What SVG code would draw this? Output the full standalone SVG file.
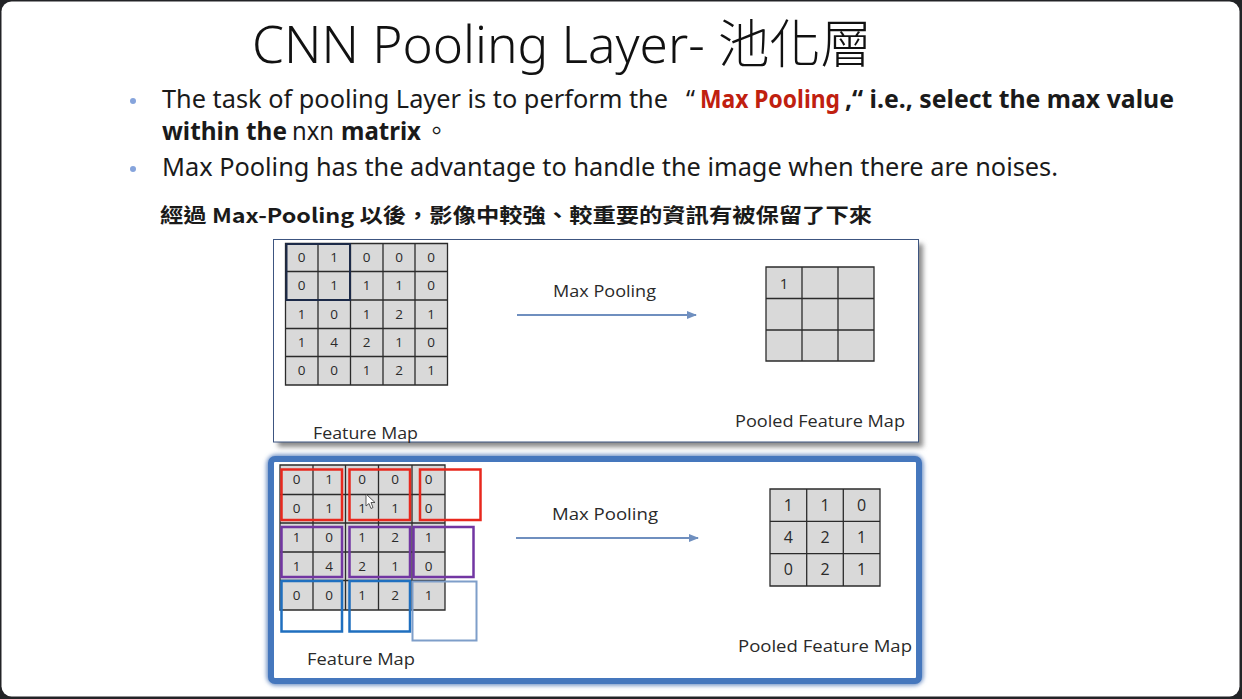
<svg xmlns="http://www.w3.org/2000/svg" width="1242" height="699" viewBox="0 0 1242 699">
<defs>
<style>
.ttl{font-family:"Noto Sans","Noto Sans CJK TC",sans-serif;font-size:52px;font-weight:300;fill:#111}
.b{font-family:"Noto Sans","Noto Sans CJK TC",sans-serif;font-size:25px;fill:#1a1a1a}
.bold{font-weight:bold}
.red{fill:#c0200f}
.sub{font-family:"Noto Sans CJK TC","Noto Sans",sans-serif;font-size:20px;font-weight:bold;fill:#1a1a1a}
.lbl{font-family:"Open Sans","Noto Sans",sans-serif;font-size:15.5px;fill:#2a2a2a}
.num{font-family:"Open Sans","Noto Sans",sans-serif;font-size:13.5px;fill:#2a2a2a;text-anchor:middle}
.pnum{font-family:"Open Sans","Noto Sans",sans-serif;font-size:16px;fill:#2a2a2a;text-anchor:middle}
.cell{fill:#d9d9d9}
.gl{fill:none;stroke:#2b2b2b;stroke-width:1.3}
.conn{stroke:#6f8fbf;stroke-width:2;fill:none}
.win{fill:none;stroke-width:2.5}
</style>
<marker id="ah" viewBox="0 0 10 10" refX="9" refY="5" markerWidth="5" markerHeight="5" orient="auto" markerUnits="strokeWidth">
<path d="M0,1 L10,5 L0,9 Z" fill="#6f8fbf"/>
</marker>
<filter id="sh" x="-5%" y="-5%" width="115%" height="120%">
<feGaussianBlur stdDeviation="2.5"/>
</filter>
<filter id="glow" x="-5%" y="-5%" width="110%" height="115%">
<feGaussianBlur stdDeviation="2"/>
</filter>
</defs>

<rect x="0" y="0" width="1242" height="699" fill="#222326"/>
<rect x="1.5" y="1.5" width="1238" height="695" rx="10" fill="#ffffff"/>

<g id="title">
<text class="ttl" x="252" y="63" textLength="620" lengthAdjust="spacingAndGlyphs">CNN Pooling Layer- 池化層</text>
</g>

<g id="bullets">
<circle cx="133" cy="101" r="3" fill="#86a4dc"/>
<circle cx="133" cy="169" r="3" fill="#86a4dc"/>
<text class="b" x="162" y="108" textLength="506" lengthAdjust="spacingAndGlyphs">The task of pooling Layer is to perform the</text>
<text class="b" x="686" y="108">“</text>
<text class="b bold red" x="700" y="108" textLength="140" lengthAdjust="spacingAndGlyphs">Max Pooling</text>
<text class="b bold" x="845" y="108" textLength="329" lengthAdjust="spacingAndGlyphs">,“ i.e., select the max value</text>
<text class="b bold" x="162" y="140" textLength="125" lengthAdjust="spacingAndGlyphs">within the</text>
<text class="b" x="292" y="140" textLength="42" lengthAdjust="spacingAndGlyphs">nxn</text>
<text class="b bold" x="341" y="140" textLength="80" lengthAdjust="spacingAndGlyphs">matrix</text>
<text class="b" x="424" y="140">。</text>
<text class="b" x="162" y="176" textLength="896" lengthAdjust="spacingAndGlyphs">Max Pooling has the advantage  to handle the image when there are noises.</text>
</g>

<g id="subtitle">
<text class="sub" x="160" y="223" textLength="712" lengthAdjust="spacingAndGlyphs">經過 Max-Pooling 以後，影像中較強、較重要的資訊有被保留了下來</text>
</g>

<g id="panel-top">
<rect x="278" y="244" width="645" height="203" fill="#8a8a8a" filter="url(#sh)"/>
<rect x="273.5" y="239.5" width="645" height="202.5" fill="#ffffff" stroke="#3d5580" stroke-width="1"/>
<g id="feature-map-top">
<rect class="cell" x="285.5" y="243.5" width="162" height="141.5"/>
<path class="gl" d="M285.5,243.5 H447.5 V385 H285.5 Z M318,243.5 V385 M350.5,243.5 V385 M383,243.5 V385 M415,243.5 V385 M285.5,271.5 H447.5 M285.5,300 H447.5 M285.5,328.5 H447.5 M285.5,356.5 H447.5"/>
<rect x="286.5" y="244" width="63.5" height="56" fill="none" stroke="#1c2a48" stroke-width="2"/>
<g class="num">
<text x="301.7" y="262">0</text><text x="334.2" y="262">1</text><text x="366.7" y="262">0</text><text x="399" y="262">0</text><text x="431.2" y="262">0</text>
<text x="301.7" y="290">0</text><text x="334.2" y="290">1</text><text x="366.7" y="290">1</text><text x="399" y="290">1</text><text x="431.2" y="290">0</text>
<text x="301.7" y="319">1</text><text x="334.2" y="319">0</text><text x="366.7" y="319">1</text><text x="399" y="319">2</text><text x="431.2" y="319">1</text>
<text x="301.7" y="347">1</text><text x="334.2" y="347">4</text><text x="366.7" y="347">2</text><text x="399" y="347">1</text><text x="431.2" y="347">0</text>
<text x="301.7" y="375">0</text><text x="334.2" y="375">0</text><text x="366.7" y="375">1</text><text x="399" y="375">2</text><text x="431.2" y="375">1</text>
</g>
<text class="lbl" x="313" y="439" textLength="105" lengthAdjust="spacingAndGlyphs">Feature Map</text>
</g>
<text class="lbl" x="553" y="297" textLength="103" lengthAdjust="spacingAndGlyphs">Max Pooling</text>
<g id="pooled-top">
<rect class="cell" x="766" y="267" width="108" height="94"/>
<path class="gl" d="M766,267 H874 V361 H766 Z M802,267 V361 M838,267 V361 M766,298.5 H874 M766,330 H874"/>
<text class="pnum" x="784" y="289" style="font-size:15px">1</text>
<text class="lbl" x="735" y="427" textLength="170" lengthAdjust="spacingAndGlyphs">Pooled Feature Map</text>
</g>
</g>

<g id="panel-bottom">
<rect x="271" y="459" width="648" height="222" rx="5" fill="none" stroke="#6d8fc4" stroke-width="9" filter="url(#glow)"/>
<rect x="271" y="459" width="648" height="222" rx="4" fill="#ffffff" stroke="#4577bd" stroke-width="6"/>
<g id="feature-map-bottom">
<rect class="cell" x="280" y="465" width="165" height="145"/>
<path class="gl" d="M280,465 H445 V610 H280 Z M313,465 V610 M345.5,465 V610 M378.5,465 V610 M412,465 V610 M280,494.5 H445 M280,523 H445 M280,552 H445 M280,580.5 H445"/>
<g class="num">
<text x="296.5" y="484">0</text><text x="329" y="484">1</text><text x="362" y="484">0</text><text x="395" y="484">0</text><text x="428.5" y="484">0</text>
<text x="296.5" y="513">0</text><text x="329" y="513">1</text><text x="362" y="513">1</text><text x="395" y="513">1</text><text x="428.5" y="513">0</text>
<text x="296.5" y="542">1</text><text x="329" y="542">0</text><text x="362" y="542">1</text><text x="395" y="542">2</text><text x="428.5" y="542">1</text>
<text x="296.5" y="571">1</text><text x="329" y="571">4</text><text x="362" y="571">2</text><text x="395" y="571">1</text><text x="428.5" y="571">0</text>
<text x="296.5" y="600">0</text><text x="329" y="600">0</text><text x="362" y="600">1</text><text x="395" y="600">2</text><text x="428.5" y="600">1</text>
</g>
<g id="windows">
<rect class="win" x="281.5" y="469.5" width="60.5" height="50.5" stroke="#e8281e"/>
<rect class="win" x="349.5" y="469.5" width="60.5" height="50.5" stroke="#e8281e"/>
<rect class="win" x="420" y="469.5" width="60.5" height="50.5" stroke="#e8281e"/>
<rect class="win" x="281.5" y="527" width="60.5" height="50" stroke="#7236a2"/>
<rect class="win" x="349.5" y="527" width="60.5" height="50" stroke="#7236a2"/>
<rect class="win" x="413.5" y="527" width="60" height="50" stroke="#7236a2"/>
<rect class="win" x="281.5" y="581" width="60.5" height="50.5" stroke="#1f6fbf"/>
<rect class="win" x="349.5" y="581" width="60.5" height="50.5" stroke="#1f6fbf"/>
<rect x="412.5" y="581.5" width="64" height="59" fill="none" stroke="#7e9ec9" stroke-width="2"/>
</g>
<path d="M366,494 L366,506 L369,503.5 L371,508.5 L373,507.5 L371,502.5 L375,502.5 Z" fill="#ffffff" stroke="#333" stroke-width="0.8"/>
<text class="lbl" x="307" y="665" textLength="108" lengthAdjust="spacingAndGlyphs">Feature Map</text>
</g>
<text class="lbl" x="552" y="520" textLength="106" lengthAdjust="spacingAndGlyphs">Max Pooling</text>
<g id="pooled-bottom">
<rect class="cell" x="770" y="489" width="110" height="97"/>
<path class="gl" d="M770,489 H880 V586 H770 Z M806.7,489 V586 M843.3,489 V586 M770,521.3 H880 M770,553.7 H880"/>
<g class="pnum">
<text x="788.3" y="511">1</text><text x="825" y="511">1</text><text x="861.7" y="511">0</text>
<text x="788.3" y="543">4</text><text x="825" y="543">2</text><text x="861.7" y="543">1</text>
<text x="788.3" y="575">0</text><text x="825" y="575">2</text><text x="861.7" y="575">1</text>
</g>
<text class="lbl" x="738" y="652" textLength="174" lengthAdjust="spacingAndGlyphs">Pooled Feature Map</text>
</g>
</g>

<g id="connectors">
<line class="conn" x1="517" y1="315" x2="696" y2="315" marker-end="url(#ah)"/>
<line class="conn" x1="516" y1="538" x2="698" y2="538" marker-end="url(#ah)"/>
</g>
</svg>
